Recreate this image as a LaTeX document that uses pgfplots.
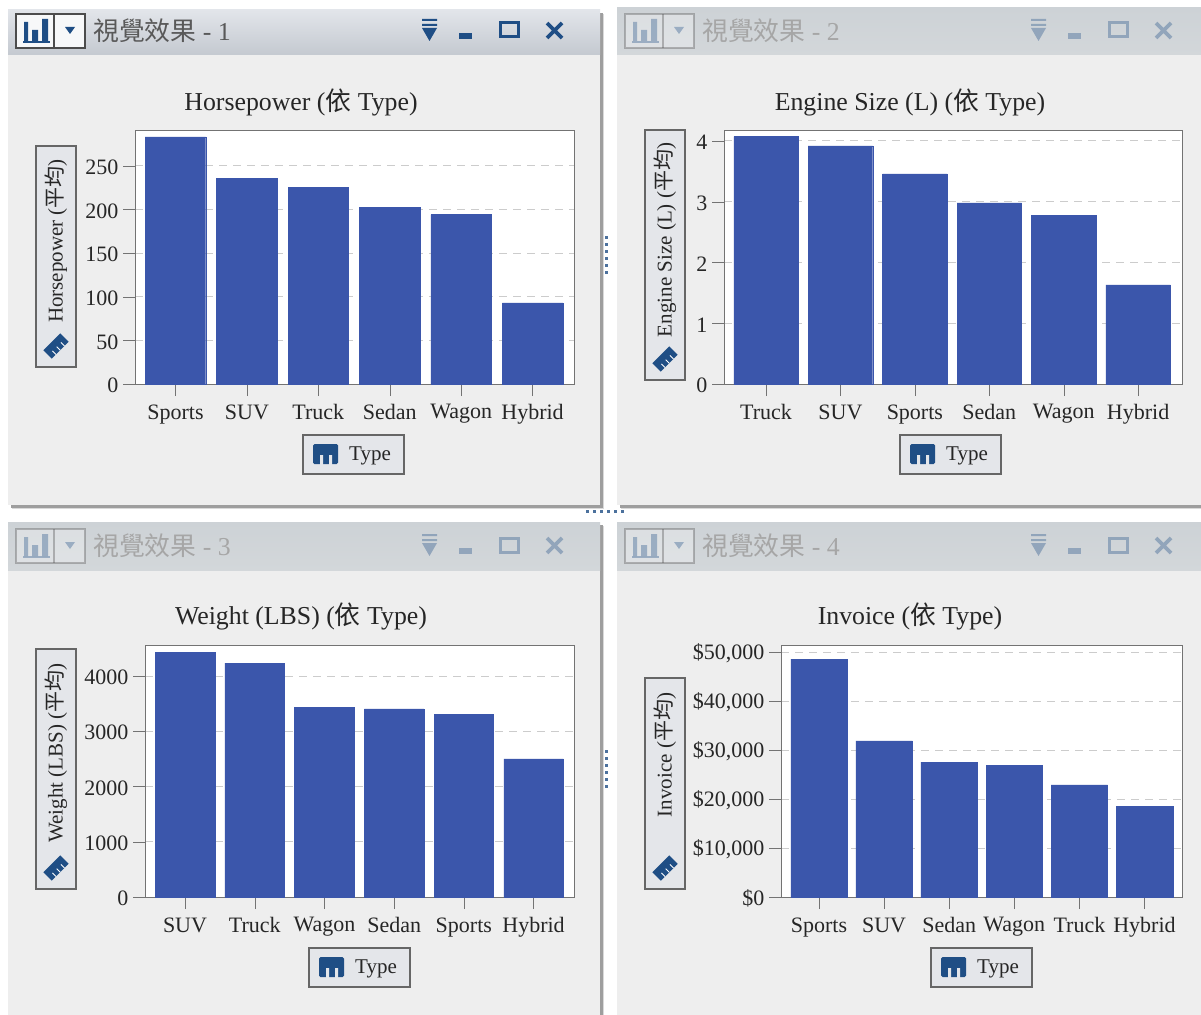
\documentclass[border=0pt]{standalone}
\usepackage{fontspec}
\setmainfont{Liberation Serif}
\newfontfamily\cjk{Noto Sans CJK TC}
\usepackage{pgfplots}
\pgfplotsset{compat=1.18}
\usepackage{pgfplotstable}
\definecolor{barblue}{HTML}{3B56AB}
\definecolor{iconblue}{HTML}{1F4E85}
\definecolor{panelbg}{HTML}{EEEEEE}
\definecolor{pillbg}{HTML}{E4E6EA}
\definecolor{atop}{HTML}{E2E5EA}
\definecolor{abot}{HTML}{C4C9D0}
\definecolor{itop}{HTML}{CDD2D6}
\definecolor{ibot}{HTML}{D3D7DA}
\newcommand\tf{\fontsize{22}{24}\selectfont}
\newcommand\ttl{\fontsize{25.8}{28}\selectfont}
\newcommand\ltf{\fontsize{21}{23}\selectfont}
\pgfplotstableread{
x y
0 283
1 236
2 225
3 202
4 194
5 93
}\tblA
\pgfplotstableread{
x y
0 4.07
1 3.92
2 3.46
3 2.98
4 2.78
5 1.63
}\tblB
\pgfplotstableread{
x y
0 4434
1 4235
2 3439
3 3403
4 3312
5 2498
}\tblC
\pgfplotstableread{
x y
0 48570
1 31840
2 27550
3 26940
4 22860
5 18570
}\tblD
\pgfplotsset{panelaxis/.style={
  scale only axis, anchor=south west, ymin=0, xtick={0,1,2,3,4,5},
  axis line style={draw=black!55}, tick style={draw=black!55, thin},
  tick align=outside, tick pos=left, major tick length=12pt,
  scaled y ticks=false,
  ymajorgrids, grid style={dash pattern=on 8pt off 6pt, draw=black!20, line width=1pt},
  tick label style={font=\tf, text=black!85},
  /pgf/number format/assume math mode=true,
  /pgf/number format/1000 sep={},
  xticklabel style={yshift=-5pt}, yticklabel style={xshift=-1pt, yshift=-1.5pt},
  clip=false,
}}
% chrome: x0 y0 x1 y1 top bottom barheight
\newcommand\panel[7]{%
  \fill[black!15] (#1+4,#2+4) rectangle (#3+4,#4+4);
  \fill[black!38] (#1+3,#2+3) rectangle (#3+3,#4+3);
  \fill[panelbg] (#1,#2) rectangle (#3,#4);
  \shade[top color=#5, bottom color=#6] (#1,#2) rectangle (#3,#2+#7);
}
\newcommand\winicons[4]{% dx dy opacity text
  \begin{scope}[shift={(#1,#2)}, opacity=#3]
    \draw[black!70, line width=1.2pt, fill=white!70!pillbg] (16,14) rectangle (85,48);
    \draw[black!70, line width=1.2pt] (54,14) -- (54,48);
    \fill[iconblue] (24,22) rectangle (28,41) (32,30) rectangle (38,41) (42,19) rectangle (48,41);
    \fill[iconblue] (23,41) rectangle (50,43);
    \fill[iconblue] (65,27) -- (75,27) -- (70,34) -- cycle;
    \fill[iconblue] (422,19) rectangle (437,21) (422,24) rectangle (437,26);
    \fill[iconblue] (422,28) -- (437,28) -- (429.5,41) -- cycle;
    \fill[iconblue] (459,33) rectangle (472,39);
    \draw[iconblue, line width=3pt] (500,23) rectangle (518,37);
    \draw[iconblue, line width=3.6pt] (547,23) -- (562,38) (562,23) -- (547,38);
  \end{scope}
  \node[anchor=west, text=black!#4, inner sep=0pt] at (#1+93,#2+31) {\ttl{\cjk 視覺效果} - \the\numexpr#1/609+(#2/515)*2+1\relax};
}
\newcommand\ypill[5]{% x0 y0 y1 text ycentre
  \draw[black!60, line width=1.2pt, fill=pillbg] (#1,#2) rectangle (#1+40,#3);
  \node[rotate=90, inner sep=0pt, text=black!85] at (#1+20,#5) {\ltf #4};
  \begin{scope}[shift={(#1+20,#3-21)}, rotate=45]
    \fill[iconblue] (-12,-6) rectangle (12,6);
    \draw[white, line width=1pt] (-6,6) -- (-6,1) (0,6) -- (0,1) (6,6) -- (6,1);
  \end{scope}
}
\newcommand\lpill[2]{% x0 y0
  \draw[black!60, line width=1.2pt, fill=pillbg] (#1,#2) rectangle (#1+101,#2+39);
  \fill[iconblue, rounded corners=1.5pt] (#1+10,#2+9) rectangle (#1+35,#2+29);
  \fill[pillbg] (#1+17,#2+20) rectangle (#1+20,#2+30) (#1+26,#2+20) rectangle (#1+29,#2+30);
  \node[anchor=west, inner sep=0pt, text=black!85] at (#1+46,#2+21) {\ltf Type};
}
\begin{document}
\begin{tikzpicture}[x=1pt,y=-1pt]
\path[use as bounding box, fill=white] (0,0) rectangle (1201,1014);
\begin{scope}
\clip (0,0) rectangle (1201,1014);
\panel{8}{10}{600}{505}{atop}{abot}{45}
\panel{617}{8}{1201}{505}{itop}{ibot}{47}
\panel{8}{522}{600}{1020}{itop}{ibot}{48}
\panel{617}{522}{1201}{1020}{itop}{ibot}{48}
\end{scope}
\winicons{0}{0}{1}{65}
\winicons{609}{0}{0.35}{35}
\winicons{0}{515}{0.35}{35}
\winicons{609}{515}{0.35}{35}
% dots
\foreach \yy in {236,243,250,257,264,271}{\fill[iconblue!80] (605,\yy) rectangle (608,\yy+3);}
\foreach \yy in {750,757,764,771,778,785}{\fill[iconblue!80] (605,\yy) rectangle (608,\yy+3);}
\foreach \xx in {586,593,600,607,614,621}{\fill[iconblue!80] (\xx,510) rectangle (\xx+3,513);}
% titles
\node[inner sep=0pt,text=black!85] at (301,102) {\ttl Horsepower ({\cjk 依} Type)};
\node[inner sep=0pt,text=black!85] at (910,102) {\ttl Engine Size (L) ({\cjk 依} Type)};
\node[inner sep=0pt,text=black!85] at (301,616) {\ttl Weight (LBS) ({\cjk 依} Type)};
\node[inner sep=0pt,text=black!85] at (910,616) {\ttl Invoice ({\cjk 依} Type)};
\ypill{36}{146}{367}{Horsepower ({\cjk 平均})}{241}
\ypill{645}{130}{380}{Engine Size (L) ({\cjk 平均})}{240}
\ypill{36}{649}{889}{Weight (LBS) ({\cjk 平均})}{753}
\ypill{645}{678}{889}{Invoice ({\cjk 平均})}{755}
\lpill{303}{435}
\lpill{900}{435}
\lpill{309}{948}
\lpill{931}{948}
\begin{axis}[panelaxis, at={(135pt,-384pt)}, width=439pt, height=254pt,
  xmin=-0.567, xmax=5.58, ymax=291, ytick={0,50,100,150,200,250},
  xticklabels={Sports,SUV,Truck,Sedan,Wagon,Hybrid}, axis background/.style={fill=white}]
\addplot[ybar, bar width=60.5pt, fill=barblue, draw=barblue] table[x=x,y=y] {\tblA};
\end{axis}
\begin{axis}[panelaxis, at={(724pt,-384pt)}, width=458pt, height=254pt,
  xmin=-0.565, xmax=5.59, ymax=4.18, ytick={0,1,2,3,4},
  xticklabels={Truck,SUV,Sports,Sedan,Wagon,Hybrid}, axis background/.style={fill=white}]
\addplot[ybar, bar width=64.5pt, fill=barblue, draw=barblue] table[x=x,y=y] {\tblB};
\end{axis}
\begin{axis}[panelaxis, at={(145pt,-897pt)}, width=429pt, height=252pt,
  xmin=-0.574, xmax=5.58, ymax=4561, ytick={0,1000,2000,3000,4000},
  xticklabels={SUV,Truck,Wagon,Sedan,Sports,Hybrid}, axis background/.style={fill=white}]
\addplot[ybar, bar width=59.5pt, fill=barblue, draw=barblue] table[x=x,y=y] {\tblC};
\end{axis}
\begin{axis}[panelaxis, at={(781pt,-897pt)}, width=401pt, height=252pt,
  xmin=-0.584, xmax=5.576, ymax=51430, ytick={0,10000,20000,30000,40000,50000},
  yticklabels={\$0,{\$10,000},{\$20,000},{\$30,000},{\$40,000},{\$50,000}},
  xticklabels={Sports,SUV,Sedan,Wagon,Truck,Hybrid}, axis background/.style={fill=white}]
\addplot[ybar, bar width=56.5pt, fill=barblue, draw=barblue] table[x=x,y=y] {\tblD};
\end{axis}
\end{tikzpicture}
\end{document}
